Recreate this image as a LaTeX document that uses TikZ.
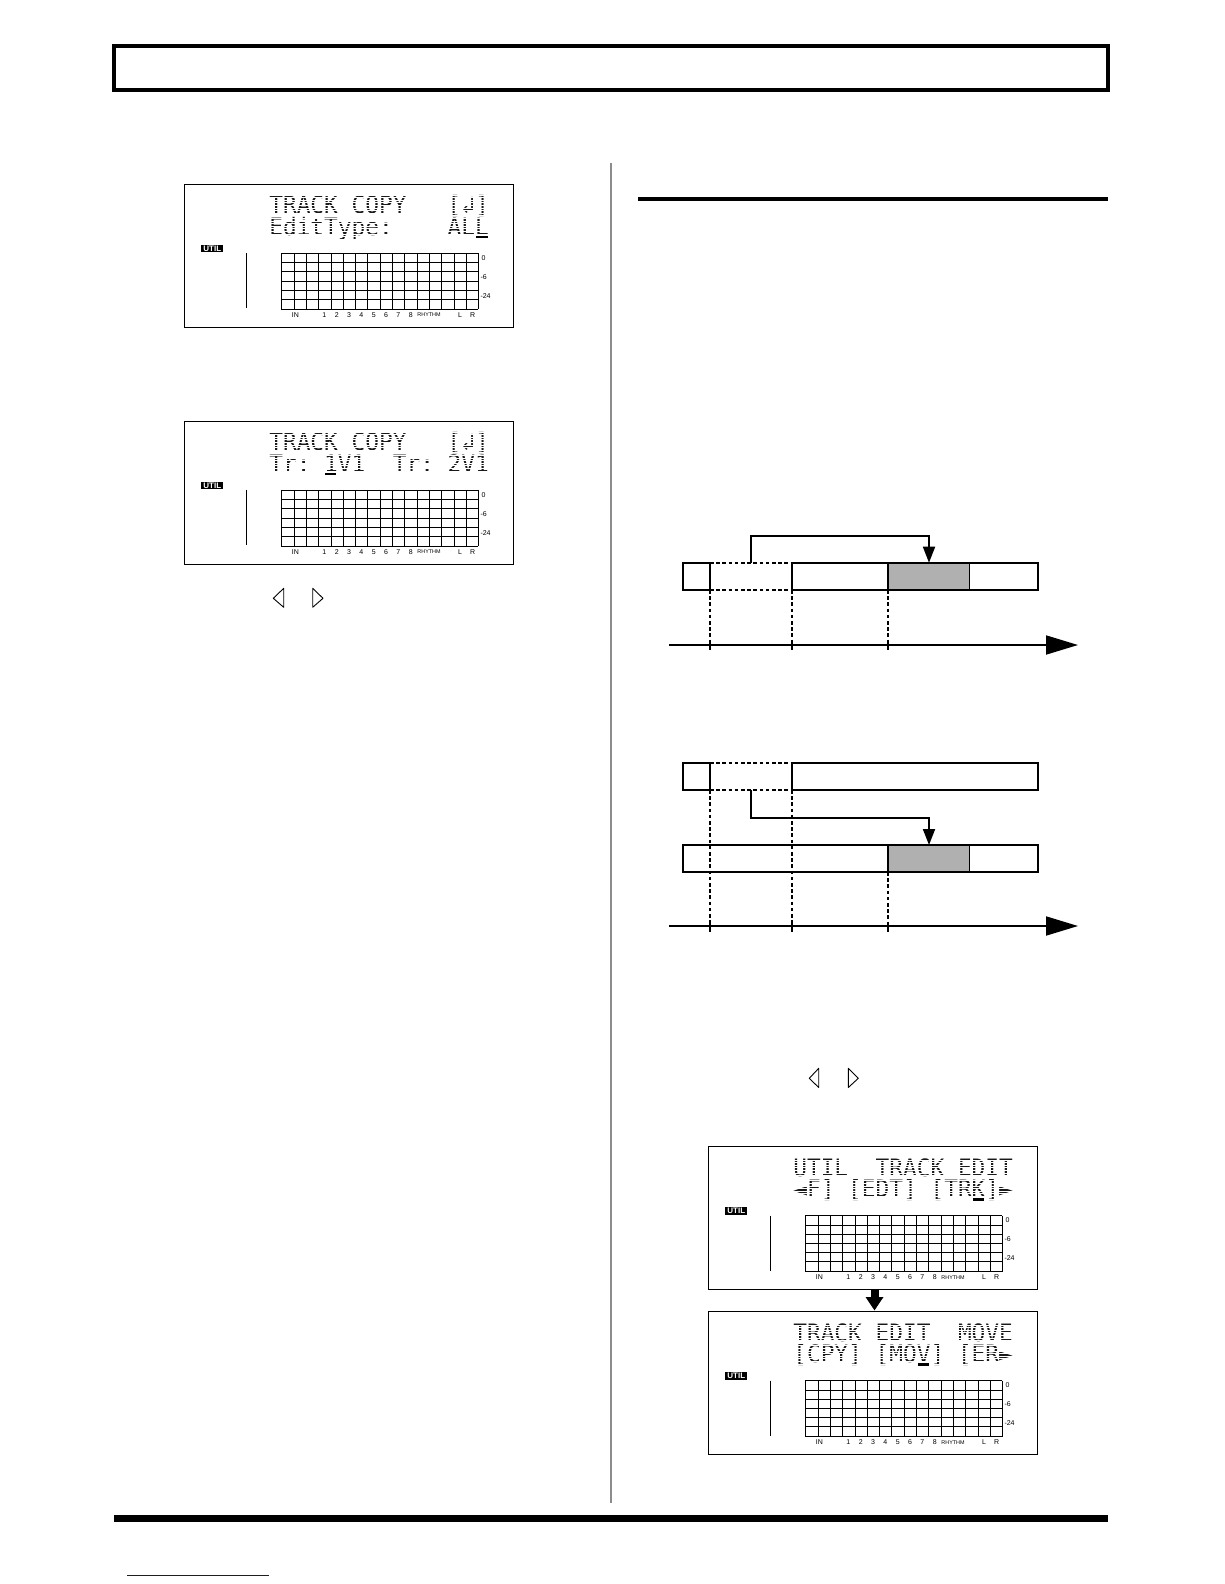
\documentclass[tikz,border=0pt]{standalone}
\usepackage{fontspec}
\setmainfont{Liberation Sans}
\newfontfamily\lcdfont{DejaVu Sans Mono}
\usetikzlibrary{arrows.meta}
\definecolor{lcdtext}{gray}{0.1}
\definecolor{clipgray}{gray}{0.69}
\definecolor{linkblue}{RGB}{10,20,130}
\definecolor{railgray}{gray}{0.55}
\tikzset{
  lcdline/.style={anchor=base west,inner sep=0pt,text=lcdtext,font=\lcdfont\fontsize{22.8}{24}\selectfont},
  tiny/.style={inner sep=0pt,font=\fontsize{7}{8}\selectfont},
  dbtiny/.style={tiny,anchor=west},
  badge/.style={fill=black,text=white,inner sep=0pt,minimum width=22pt,minimum height=7.5pt,font=\bfseries\fontsize{8}{8}\selectfont},
  lcdframe/.style={draw=black,line width=1pt},
  meter/.style={draw=black,line width=0.8pt},
  strip/.style={draw=black,line width=1.8pt},
  stripdash/.style={draw=black,line width=1.8pt,dash pattern=on 3.6pt off 2.6pt},
  axisline/.style={draw=black,line width=1.8pt},
  copyarrow/.style={draw=black,line width=1.8pt,-{Triangle[length=16pt,width=12pt]}},
  axisarrow/.style={draw=black,line width=1.8pt,-{Triangle[length=32pt,width=19pt]}},
  softkey/.style={draw=black,line width=0.9pt,line join=round},
}
% #1,#2 corner  #3 name  #4,#5 text lines  #6 cursor column
\newcommand{\lcdscreen}[6]{%
  \begin{scope}[shift={(#1,#2)}]
    \draw[lcdframe] (0,0) rectangle (329,143);
    \node[lcdline] (#3top) at (84.8,29.5) {\scalebox{1}[1.05]{#4}};
    \node[lcdline] (#3bot) at (84.8,51) {\scalebox{1}[1.05]{#5}};
    % dot matrix look
    \foreach \dy in {8,10.6,...,58} \draw[white,line width=0.6pt] (84,\dy) -- (312,\dy);
    \fill[black] ({85.5+13.75*#6},51.5) rectangle ++(11.5,2.5);
    \node[badge] (#3util) at (28,64.4) {UTIL};
    \draw[black,line width=0.9pt] (62,69) -- (62,124);
    \foreach \gx in {0,13,25,37,50,62,74,86,99,111,123,136,148,160,173,185,197}
      \draw[meter] (97+\gx,69) -- (97+\gx,125);
    \foreach \gy in {69,78.3,87.3,97,106,115,125}
      \draw[meter] (97,\gy) -- (294,\gy);
    \node[dbtiny] (#3a) at (297,73.4) {0};
    \node[dbtiny] (#3b) at (296,92.4) {-6};
    \node[dbtiny] (#3c) at (296,111.7) {-24};
    \node[tiny] (#3in) at (111,130.5) {IN};
    \foreach \lx/\lt in {140/1,152.4/2,164.7/3,177/4,189.4/5,201.7/6,214/7,226.4/8,275.7/L,288.4/R}
      \node[tiny] (#3l\lt) at (\lx,130.5) {\lt};
    \node[tiny,font=\fontsize{5.4}{6}\selectfont] (#3rh) at (244.7,130.5) {RHYTHM};
  \end{scope}
}
\begin{document}
\begin{tikzpicture}[x=1pt,y=-1pt]
  \useasboundingbox (0,0) rectangle (1224,1584);
  % page furniture
  \draw[black,line width=4pt] (114,46) rectangle (1108,89.7);
  \draw[railgray,line width=2pt] (611,162.7) -- (611,1503);
  \fill[black] (638.3,196.7) rectangle (1108,201);
  \fill[black] (114,1515) rectangle (1107.7,1522);
  \draw[linkblue,line width=1.3pt] (127,1575.3) -- (269,1575.3);
  % screens
  \lcdscreen{184.3}{184.3}{one}{TRACK COPY~~~[↲]}{EditType:~~~~ALL}{15}
  \lcdscreen{184.3}{421.3}{two}{TRACK COPY~~~[↲]}{Tr:~1V1~~Tr:~2V1}{4}
  \lcdscreen{708.3}{1146.7}{three}{UTIL~~TRACK EDIT}{◄F] [EDT] [TRK]►}{13}
  \lcdscreen{708.3}{1311.7}{four}{TRACK EDIT~~MOVE}{[CPY] [MOV] [ER►}{9}
  % cursor keys
  \draw[softkey] (273.3,598.3) -- (283.7,588.3) -- (283.7,607.3) -- cycle;
  \draw[softkey] (312.7,588.3) -- (323,598.3) -- (312.7,607.3) -- cycle;
  \draw[softkey] (809.3,1078.3) -- (818.7,1068.3) -- (818.7,1087.5) -- cycle;
  \draw[softkey] (848.3,1068.3) -- (858.3,1078.3) -- (848.3,1087.5) -- cycle;
  % first timeline
  \fill[clipgray] (888,562.7) rectangle (969.3,590);
  \draw[strip] (710,562.7) -- (682.7,562.7) -- (682.7,590) -- (710,590);
  \draw[strip] (792,562.7) -- (1038.3,562.7) -- (1038.3,590) -- (792,590) -- cycle;
  \draw[strip] (710,562.7) -- (710,590);
  \draw[strip] (888,562.7) -- (888,590);
  \draw[black,line width=0.9pt] (969.3,562.7) -- (969.3,590);
  \draw[stripdash] (710,562.7) -- (792,562.7);
  \draw[stripdash] (710,590) -- (792,590);
  \foreach \tx in {710,792,888} {
    \draw[stripdash] (\tx,590) -- (\tx,649.5);
    \draw[axisline] (\tx,640.5) -- (\tx,649.5);
  }
  \coordinate (startA) at (750.7,562.7);
  \coordinate (endA) at (929,562.7);
  \coordinate (axisA) at (669.3,645);
  \coordinate (tipA) at (1078,645);
  \draw[copyarrow] (startA) -- (750.7,535.7) -- (929,535.7) -- (endA);
  \draw[axisarrow] (axisA) -- (tipA);
  % second timeline
  \fill[clipgray] (888,845) rectangle (969.3,872);
  \draw[strip] (710,762.7) -- (682.7,762.7) -- (682.7,790) -- (710,790);
  \draw[strip] (792,762.7) -- (1038.3,762.7) -- (1038.3,790) -- (792,790) -- cycle;
  \draw[strip] (710,762.7) -- (710,790);
  \draw[stripdash] (710,762.7) -- (792,762.7);
  \draw[stripdash] (710,790) -- (792,790);
  \draw[strip] (682.7,845) rectangle (1038.3,872);
  \draw[strip] (888,845) -- (888,872);
  \draw[black,line width=0.9pt] (969.3,845) -- (969.3,872);
  \foreach \tx in {710,792} {
    \draw[stripdash] (\tx,790) -- (\tx,931.5);
    \draw[axisline] (\tx,922) -- (\tx,931.5);
  }
  \draw[stripdash] (888,872) -- (888,931.5);
  \draw[axisline] (888,922) -- (888,931.5);
  \coordinate (startB) at (750.7,790);
  \coordinate (endB) at (929,845);
  \coordinate (axisB) at (669.3,926);
  \coordinate (tipB) at (1078,926);
  \draw[copyarrow] (startB) -- (750.7,818) -- (929,818) -- (endB);
  \draw[axisarrow] (axisB) -- (tipB);
  % between the two screens
  \coordinate (flowtop) at (874.5,1289);
  \coordinate (flowend) at (874.5,1310.5);
  \draw[black,line width=8pt,-{Triangle[length=13.5pt,width=17pt]}] (flowtop) -- (flowend);
\end{tikzpicture}
\end{document}
